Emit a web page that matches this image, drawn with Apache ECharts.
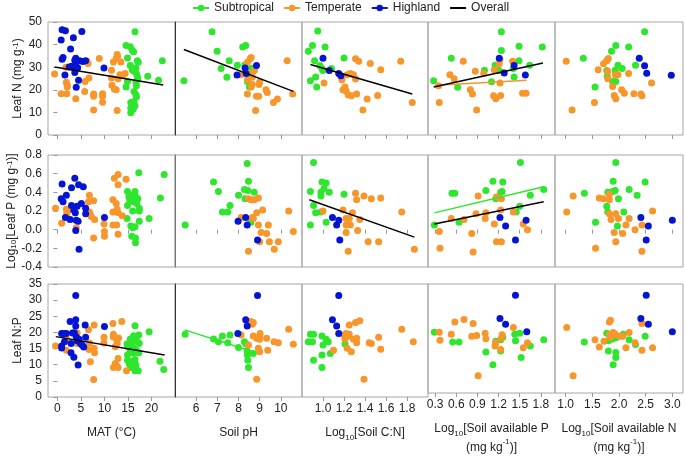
<!DOCTYPE html>
<html>
<head>
<meta charset="utf-8">
<script src="https://cdn.jsdelivr.net/npm/echarts@6/dist/echarts.min.js"></script>
<style>
html, body { margin: 0; padding: 0; background: #fff; }
#main { width: 685px; height: 458px; }
</style>
</head>
<body>
<div id="main"></div>
<script>
// tick labels of the x axes
var matTicks = [0, 5, 10, 15, 20];
var phTicks = [6, 7, 8, 9, 10];
var cnTicks = [1.0, 1.2, 1.4, 1.6, 1.8];
var pTicks = [0.3, 0.6, 0.9, 1.2, 1.5, 1.8];
var nTicks = [1.0, 1.5, 2.0, 2.5, 3.0];

// ---- row 1 : leaf N ----
var nMatSub = [[16.5,45.7],[14.6,39.6],[15.5,39.0],[15.9,37.5],[16.2,36.8],[14.9,34.1],[17.0,32.9],[17.2,32.2],[22.3,32.9],[15.5,30.7],[15.9,28.9],[16.2,28.2],[16.7,29.7],[16.8,27.2],[17.0,25.7],[17.1,24.8],[19.2,26.0],[21.5,24.2],[14.6,21.2],[14.9,23.7],[16.7,23.3],[16.8,21.8],[16.3,19.3],[16.7,17.8],[16.8,16.8],[15.6,14.4],[16.3,14.8],[15.6,11.9],[16.1,11.4],[16.5,12.9],[15.6,9.9]];
var nMatTem = [[-0.6,27.0],[0.8,18.2],[1.8,30.0],[1.9,23.3],[2.1,22.0],[2.1,21.2],[2.0,18.2],[3.9,16.0],[5.9,23.7],[6.3,32.6],[6.5,31.6],[6.7,25.2],[5.8,19.3],[7.7,18.1],[7.7,17.1],[7.7,11.1],[8.9,33.8],[9.6,18.2],[9.6,17.1],[9.6,14.5],[11.5,25.2],[11.5,28.6],[11.9,32.3],[12.5,33.8],[12.7,35.6],[12.8,34.6],[13.5,32.3],[11.6,22.0],[12.1,20.3],[12.5,20.0],[12.7,10.8],[12.9,24.9],[13.3,26.7],[13.9,26.4],[14.4,27.2]];
var nMatHig = [[1.0,46.6],[1.7,46.1],[5.2,45.8],[3.4,43.0],[0.8,42.0],[2.8,38.1],[1.2,34.3],[1.0,33.5],[3.9,34.0],[3.7,33.1],[4.7,32.8],[5.4,32.5],[6.0,32.8],[2.5,30.1],[3.0,30.4],[3.5,30.1],[3.9,30.4],[4.3,29.8],[1.6,26.6],[3.7,27.6],[4.5,24.2],[4.0,21.1],[9.9,29.7]];
var nMatAll = [[-0.6,30.1],[22.5,22.1]];

var nPhSub = [[5.42,24.0],[6.75,45.7],[6.99,37.1],[7.18,29.4],[7.45,25.5],[7.56,32.9],[7.95,30.9],[8.2,38.9],[8.34,39.6],[8.3,31.0],[8.42,23.7],[8.52,21.2],[8.7,28.2],[8.6,29.5]];
var nPhTem = [[8.1,26.7],[8.42,32.2],[8.55,33.7],[8.6,34.3],[8.42,24.5],[8.5,26.0],[8.6,27.0],[8.65,25.5],[8.75,28.6],[8.42,18.1],[8.6,21.2],[8.65,22.3],[8.97,22.3],[9.0,23.5],[8.85,17.1],[8.95,17.2],[8.81,10.8],[9.3,20.0],[9.36,18.8],[9.65,14.4],[9.84,15.9],[10.3,32.8],[10.56,18.1]];
var nPhHig = [[7.93,26.6],[8.31,29.7],[8.36,27.2],[8.85,30.7]];
var nPhAll = [[5.42,37.8],[10.59,19.3]];

var nCnSub = [[0.86,37.1],[0.90,39.6],[0.92,32.9],[0.95,46.0],[0.88,24.0],[0.93,25.7],[0.97,30.7],[0.99,29.4],[1.0,28.5],[1.02,38.9],[1.08,29.4],[1.2,34.1],[0.94,21.2]];
var nCnTem = [[1.01,23.0],[1.31,33.7],[1.34,32.6],[1.45,31.6],[1.55,28.9],[1.74,32.6],[1.85,14.4],[1.23,26.7],[1.26,27.2],[1.29,26.7],[1.31,24.8],[1.21,21.2],[1.22,19.5],[1.24,17.8],[1.27,17.4],[1.32,18.1],[1.42,15.9],[1.52,17.5],[1.38,11.1],[1.19,20.0],[1.18,24.5]];
var nCnHig = [[1.0,34.0],[1.06,28.5],[1.15,27.2],[1.17,26.2]];
var nCnAll = [[0.88,31.2],[1.85,18.1]];

var nPSub = [[0.28,24.0],[0.53,34.0],[0.62,21.1],[1.0,28.6],[1.1,23.6],[1.15,30.9],[1.21,28.5],[1.24,45.7],[1.24,37.4],[1.41,29.4],[1.42,25.7],[1.49,39.3],[1.49,32.9],[1.64,30.9],[1.82,38.9]];
var nPTem = [[0.35,21.8],[0.36,14.4],[0.51,26.7],[0.57,24.9],[0.70,32.6],[0.80,20.0],[0.83,18.1],[0.87,28.2],[0.89,11.1],[0.99,27.2],[1.13,17.4],[1.16,16.0],[1.14,28.9],[1.21,31.5],[1.22,33.4],[1.22,23.0],[1.23,17.5],[1.40,32.6],[1.54,18.5],[1.59,18.5]];
var nPHig = [[1.21,34.0],[1.28,27.4],[1.42,30.7],[1.58,26.6]];
var nPAll = [[0.28,21.2],[1.83,31.9]];
var nPTemFit = [[0.32,22.0],[1.6,24.2]];

var nNSub = [[1.33,34.0],[1.55,21.2],[1.77,28.5],[1.78,26.0],[1.86,37.1],[1.94,39.6],[1.88,23.7],[1.94,23.7],[1.93,28.6],[1.98,30.9],[2.06,29.4],[2.18,38.9],[2.31,30.9],[2.48,45.7]];
var nNTem = [[1.01,32.6],[1.12,11.1],[1.54,14.4],[1.61,28.9],[1.71,31.5],[1.77,32.9],[1.80,33.8],[1.79,28.2],[1.79,24.9],[1.88,21.5],[1.91,17.5],[1.94,16.0],[1.93,26.7],[1.98,26.7],[2.05,20.0],[2.1,18.5],[2.18,27.2],[2.28,18.2],[2.41,18.1],[2.43,17.4],[2.61,23.0]];
var nNHig = [[2.38,34.0],[2.48,30.6],[2.52,27.3],[2.98,26.4]];

// ---- row 2 : log10 leaf P ----
var pMatSub = [[17.3,0.61],[22.7,0.59],[21.9,0.34],[14.9,0.41],[16.5,0.41],[15.2,0.35],[15.6,0.34],[16.0,0.33],[16.4,0.32],[16.8,0.30],[15.4,0.31],[16.2,0.30],[16.9,0.28],[17.1,0.33],[16.6,0.36],[15.8,0.37],[14.9,0.26],[16.0,0.20],[17.4,0.23],[17.4,0.20],[14.8,0.12],[17.4,0.09],[19.5,0.12],[15.6,0.04],[16.0,0.02],[16.5,0.03],[15.8,-0.07],[16.6,-0.09],[16.6,-0.14]];
var pMatTem = [[-0.4,0.23],[0.9,0.07],[1.9,0.22],[2.2,0.20],[2.0,0.17],[4.0,0.02],[6.8,0.37],[6.6,0.30],[7.7,0.31],[6.8,0.19],[7.0,0.16],[7.2,0.14],[7.9,0.11],[7.7,-0.09],[9.9,0.06],[10.0,-0.02],[10.0,-0.07],[11.8,0.32],[12.5,0.28],[12.1,0.55],[12.9,0.59],[12.9,0.48],[14.6,0.54],[11.8,0.19],[12.7,0.22],[12.9,0.18],[13.8,0.15],[11.8,0.05],[12.6,0.05],[12.9,-0.05]];
var pMatHig = [[1.0,0.49],[0.8,0.33],[1.2,0.30],[1.9,0.37],[3.0,0.45],[3.7,0.55],[4.5,0.48],[5.5,0.46],[3.0,0.26],[3.5,0.21],[3.8,0.18],[5.1,0.28],[6.0,0.23],[6.0,0.17],[1.7,0.13],[2.7,0.11],[4.0,0.10],[4.4,0.09],[3.9,-0.01],[4.6,-0.21],[10.0,0.13],[4.2,0.25]];

var pPhSub = [[5.48,0.05],[6.82,0.51],[7.05,0.41],[7.24,0.19],[7.49,0.19],[7.6,0.26],[8.0,0.37],[8.28,0.43],[8.41,0.71],[8.47,0.52],[8.44,0.42],[8.31,0.33],[8.59,0.08],[8.74,0.40]];
var pPhTem = [[8.12,0.13],[8.47,0.33],[8.6,0.32],[8.94,0.34],[9.14,0.21],[8.86,0.18],[8.7,0.12],[8.65,0.13],[8.47,-0.23],[8.94,0.05],[9.07,-0.03],[9.0,-0.13],[9.33,-0.04],[9.41,0.05],[9.46,-0.13],[9.69,-0.21],[9.88,-0.13],[10.37,0.20],[10.59,-0.02],[8.75,0.32]];
var pPhHig = [[7.98,0.09],[8.34,0.13],[8.41,0.05],[8.9,-0.11]];

var pCnSub = [[0.91,0.72],[0.88,0.41],[0.91,0.26],[0.93,0.18],[0.88,0.05],[0.99,0.51],[1.03,0.50],[0.98,0.36],[1.01,0.44],[0.98,0.40],[1.06,0.40],[0.98,0.19],[1.03,0.08],[1.2,0.38]];
var pCnTem = [[1.31,0.39],[1.32,0.32],[1.39,0.36],[1.46,0.33],[1.55,0.34],[1.22,0.12],[1.25,0.12],[1.28,0.18],[1.35,0.11],[1.22,0.05],[1.26,0.05],[1.22,-0.03],[1.33,-0.01],[1.24,-0.23],[1.43,-0.13],[1.53,-0.13],[1.75,0.19],[1.87,-0.21],[1.19,0.21],[1.0,0.20]];
var pCnHig = [[1.09,0.13],[1.13,0.05],[1.15,0.10],[1.16,-0.11]];
var pCnAll = [[0.87,0.32],[1.87,-0.08]];

var pPSub = [[0.29,0.05],[0.54,0.39],[0.58,0.39],[0.64,0.08],[1.02,0.42],[1.12,0.52],[1.26,0.51],[1.23,0.40],[1.25,0.41],[1.16,0.33],[1.45,0.19],[1.50,0.25],[1.51,0.72],[1.65,0.37],[1.84,0.43]];
var pPTem = [[0.36,-0.02],[0.37,-0.20],[0.53,0.12],[0.71,0.11],[0.82,-0.04],[0.84,-0.24],[0.88,0.17],[0.91,0.36],[1.01,0.12],[1.02,0.18],[1.14,0.06],[1.17,0.35],[1.24,0.33],[1.23,0.21],[1.17,-0.13],[1.24,-0.13],[1.41,0.19],[1.55,0.06],[1.61,0.0]];
var pPHig = [[1.22,0.13],[1.30,0.04],[1.44,-0.11],[1.59,0.10]];
var pPAll = [[0.29,0.06],[1.84,0.30]];
var pPSubFit = [[0.29,0.18],[1.84,0.46]];

var pNSub = [[1.35,0.39],[1.56,0.08],[1.79,0.40],[1.88,0.41],[1.94,0.72],[1.89,0.52],[1.93,0.42],[1.99,0.33],[1.77,0.25],[1.79,0.19],[2.09,0.19],[1.97,0.04],[2.19,0.43],[2.34,0.37],[2.49,0.51]];
var pNTem = [[1.02,0.19],[1.14,0.36],[1.56,-0.20],[1.63,0.34],[1.71,0.33],[1.82,0.32],[1.82,0.38],[1.82,0.17],[1.94,0.17],[1.85,0.11],[1.99,0.12],[1.91,-0.03],[2.07,-0.04],[2.13,0.05],[2.19,0.12],[1.94,-0.13],[2.30,0.00],[2.43,0.05],[2.43,-0.23],[2.63,0.20]];
var pNHig = [[2.41,0.13],[2.55,0.04],[2.51,-0.11],[3.0,0.10]];

// ---- row 3 : leaf N:P ----
var npMatSub = [[16.5,22.1],[19.5,20.2],[16.2,19.0],[16.7,18.6],[17.3,19.2],[15.5,18.0],[16.0,17.6],[16.5,17.9],[17.0,17.2],[17.4,16.6],[14.8,16.4],[15.3,16.6],[15.6,16.0],[16.0,15.5],[16.3,15.0],[15.0,15.6],[16.8,14.5],[15.5,14.1],[14.9,13.0],[16.1,13.6],[16.8,13.9],[17.3,13.7],[14.9,11.4],[15.8,11.1],[16.5,11.6],[15.3,10.2],[16.7,9.9],[15.6,9.1],[16.5,8.1],[17.2,8.1],[21.8,11.1],[22.6,8.5]];
var npMatTem = [[-0.4,15.8],[1.9,18.1],[1.9,14.5],[4.2,19.8],[4.2,16.6],[6.6,20.8],[7.8,22.3],[6.8,16.7],[6.7,14.7],[7.8,15.1],[7.9,13.7],[7.0,10.9],[7.7,5.4],[9.9,18.5],[9.9,16.7],[11.8,22.8],[13.7,23.4],[11.9,19.4],[11.9,18.6],[12.6,17.9],[13.0,18.3],[12.7,16.6],[12.3,15.6],[12.9,11.9],[12.3,10.4],[12.6,9.6],[12.9,9.1],[11.9,9.1],[14.7,8.1]];
var npMatHig = [[3.9,31.4],[3.9,23.9],[3.9,22.0],[2.7,23.4],[3.6,19.9],[4.0,18.7],[4.2,17.4],[4.6,17.9],[5.9,22.3],[10.0,21.8],[0.9,19.7],[1.4,19.7],[1.9,19.7],[1.5,17.1],[0.9,15.8],[0.9,15.2],[2.9,16.6],[2.9,13.7],[3.5,12.3],[4.4,9.9],[4.9,16.6],[5.3,16.0],[5.6,15.5],[6.0,18.5],[3.2,19.8]];
var npMatAll = [[-0.35,18.7],[22.8,13.0]];

var npPhSub = [[5.48,19.4],[6.82,18.0],[7.05,17.1],[7.24,18.9],[7.49,16.8],[7.6,19.2],[8.0,15.3],[8.28,17.1],[8.36,16.4],[8.41,14.3],[8.42,13.0],[8.44,11.4],[8.47,9.1],[8.7,13.5]];
var npPhTem = [[8.12,19.2],[8.47,16.1],[8.58,23.4],[8.7,23.1],[8.7,18.9],[8.86,18.2],[8.99,18.7],[9.02,19.7],[9.0,17.9],[8.94,15.1],[9.0,14.0],[9.38,14.5],[9.33,18.2],[8.86,5.5],[9.68,17.1],[9.88,16.8],[10.37,21.0],[10.59,16.3],[8.65,22.5]];
var npPhHig = [[7.97,19.7],[8.34,23.9],[8.41,22.0],[8.9,31.4]];
var npPhSubFit = [[5.45,20.8],[8.7,14.0]];

var npCnSub = [[0.88,19.4],[0.91,19.4],[0.90,17.1],[0.99,18.9],[1.0,16.1],[0.99,13.0],[1.03,17.9],[1.05,17.1],[1.07,13.5],[0.91,11.4],[0.99,9.1],[1.21,16.4],[0.86,17.1]];
var npCnTem = [[1.2,19.2],[1.1,14.5],[1.22,19.7],[1.24,18.9],[1.25,19.4],[1.21,17.9],[1.25,22.3],[1.31,23.1],[1.35,23.6],[1.29,17.9],[1.32,18.2],[1.23,15.1],[1.27,14.0],[1.32,16.8],[1.44,16.8],[1.46,16.6],[1.53,18.5],[1.55,14.8],[1.75,21.0],[1.86,17.1],[1.39,5.5]];
var npCnHig = [[1.15,31.4],[1.09,23.9],[1.13,22.0],[1.15,19.7]];

var npPSub = [[0.29,19.5],[0.55,16.4],[0.64,16.4],[1.02,13.2],[1.12,9.1],[1.16,16.6],[1.23,17.1],[1.26,17.9],[1.23,13.5],[1.43,18.9],[1.44,16.8],[1.50,19.2],[1.52,11.4],[1.65,15.1],[1.84,17.1]];
var npPTem = [[0.36,19.5],[0.37,16.9],[0.53,18.9],[0.58,22.8],[0.71,23.6],[0.84,22.3],[0.82,18.2],[0.89,18.5],[0.91,5.5],[1.01,19.2],[1.02,17.4],[1.15,15.1],[1.16,16.1],[1.23,14.0],[1.25,18.7],[1.24,17.7],[1.41,21.0],[1.55,14.5],[1.61,16.1]];
var npPHig = [[1.22,23.9],[1.30,22.1],[1.44,31.4],[1.60,19.7]];

var npNSub = [[1.35,16.4],[1.77,19.2],[1.80,16.8],[1.88,17.3],[1.80,13.5],[1.94,13.0],[1.94,11.4],[1.89,9.1],[2.08,18.9],[2.19,17.1],[2.31,15.6],[2.49,18.2],[1.95,17.8]];
var npNTem = [[1.02,21.0],[1.14,5.5],[1.55,17.1],[1.63,14.8],[1.72,16.6],[1.82,22.8],[1.84,23.4],[1.82,18.7],[1.84,17.9],[1.89,19.4],[1.93,18.9],[2.01,18.2],[2.07,18.2],[2.13,14.5],[2.19,19.4],[2.3,16.1],[2.43,22.3],[2.43,13.7],[2.63,14.5]];
var npNHig = [[2.41,23.9],[2.51,31.4],[2.55,22.1],[3.0,19.7]];

var GREEN = '#2ee62e', ORANGE = '#f7962a', BLUE = '#0514d2', BLACK = '#000';
var FONT = 'Liberation Sans, Arial, sans-serif';

// layout of the 3 x 5 panel grid
var colLeft = [48, 175, 302, 428, 555];
var colWidth = [127, 127, 126, 127, 128];
var rowTop = [22, 155, 284];
var rowHeight = [113, 112, 113];

var rich = {
	sup : { fontSize : 8, verticalAlign : 'top', fontFamily : FONT, color : '#222' },
	sub : { fontSize : 8, verticalAlign : 'bottom', fontFamily : FONT, color : '#222' }
};

var rowsCfg = [
	{ min : 0, max : 50, interval : 10, dec : 0, name : 'Leaf N (mg g{sup|-1})' },
	{ min : -0.4, max : 0.8, interval : 0.2, dec : 1, name : 'Log{sub|10}[Leaf P (mg g{sup|-1})]' },
	{ min : 0, max : 35, interval : 5, dec : 0, name : 'Leaf N:P' }
];
var colsCfg = [
	{ min : -2, max : 25, ticks : matTicks, dec : 0, name : 'MAT (°C)' },
	{ min : 5, max : 11, ticks : phTicks, dec : 0, name : 'Soil pH' },
	{ min : 0.8, max : 2.0, ticks : cnTicks, dec : 1, name : 'Log{sub|10}[Soil C:N]' },
	{ min : 0.2, max : 2.0, ticks : pTicks, dec : 1, name : 'Log{sub|10}[Soil available P\n(mg kg{sup|-1})]' },
	{ min : 0.8, max : 3.2, ticks : nTicks, dec : 1, name : 'Log{sub|10}[Soil available N\n(mg kg{sup|-1})]' }
];

// [subtropical, temperate, highland, fitted lines]
var panels = [
	[
		[nMatSub, nMatTem, nMatHig, [[nMatAll, BLACK]]],
		[nPhSub, nPhTem, nPhHig, [[nPhAll, BLACK]]],
		[nCnSub, nCnTem, nCnHig, [[nCnAll, BLACK]]],
		[nPSub, nPTem, nPHig, [[nPTemFit, ORANGE], [nPAll, BLACK]]],
		[nNSub, nNTem, nNHig, []]
	],
	[
		[pMatSub, pMatTem, pMatHig, []],
		[pPhSub, pPhTem, pPhHig, []],
		[pCnSub, pCnTem, pCnHig, [[pCnAll, BLACK]]],
		[pPSub, pPTem, pPHig, [[pPSubFit, GREEN], [pPAll, BLACK]]],
		[pNSub, pNTem, pNHig, []]
	],
	[
		[npMatSub, npMatTem, npMatHig, [[npMatAll, BLACK]]],
		[npPhSub, npPhTem, npPhHig, [[npPhSubFit, GREEN]]],
		[npCnSub, npCnTem, npCnHig, []],
		[npPSub, npPTem, npPHig, []],
		[npNSub, npNTem, npNHig, []]
	]
];

function fmt(v, dec) {
	if (Math.abs(v) < 1e-9) v = 0;
	return v.toFixed(dec);
}

var grids = [], xAxes = [], yAxes = [];
// dummy series first so that the legend takes its icons from them
var series = [
	{ name : 'Subtropical', type : 'line', data : [], symbol : 'circle', symbolSize : 6, itemStyle : { color : GREEN }, lineStyle : { color : GREEN, width : 1.5 } },
	{ name : 'Temperate', type : 'line', data : [], symbol : 'circle', symbolSize : 6, itemStyle : { color : ORANGE }, lineStyle : { color : ORANGE, width : 1.5 } },
	{ name : 'Highland', type : 'line', data : [], symbol : 'circle', symbolSize : 6, itemStyle : { color : BLUE }, lineStyle : { color : BLUE, width : 1.5 } },
	{ name : 'Overall', type : 'line', data : [], symbol : 'none', itemStyle : { color : BLACK }, lineStyle : { color : BLACK, width : 1.5 } }
];

for (var r = 0; r < 3; r++) {
	for (var c = 0; c < 5; c++) {
		var idx = r * 5 + c;
		var rc = rowsCfg[r], cc = colsCfg[c];
		grids.push({
			left : colLeft[c], top : rowTop[r], width : colWidth[c], height : rowHeight[r],
			show : true, borderColor : '#a6a6a6', borderWidth : 1, backgroundColor : 'transparent'
		});
		(function(cc, r) {
			xAxes.push({
				gridIndex : idx, type : 'value', min : cc.min, max : cc.max,
				splitLine : { show : false },
				axisLine : { show : false },
				axisTick : { show : true, inside : false, length : 4, customValues : cc.ticks, lineStyle : { color : '#999' } },
				axisLabel : {
					show : r === 2, customValues : cc.ticks, margin : 6,
					fontSize : 12, fontFamily : FONT, color : '#222',
					formatter : function(v) { return fmt(v, cc.dec); }
				},
				name : r === 2 ? cc.name : '',
				nameLocation : 'middle', nameGap : 26,
				nameTextStyle : { fontSize : 12, fontFamily : FONT, color : '#222', lineHeight : 19, rich : rich }
			});
		})(cc, r);
		(function(rc, c, r) {
			yAxes.push({
				gridIndex : idx, type : 'value', min : rc.min, max : rc.max, interval : rc.interval,
				splitLine : { show : false },
				axisLine : { show : c === 1, lineStyle : { color : r === 1 ? '#777' : '#333' } },
				axisTick : { show : c === 0, length : 4, lineStyle : { color : '#999' } },
				axisLabel : {
					show : c === 0, margin : 6, fontSize : 12, fontFamily : FONT, color : '#222',
					formatter : function(v) { return fmt(v, rc.dec); }
				},
				name : c === 0 ? rc.name : '',
				nameLocation : 'middle', nameGap : 24, nameRotate : 90,
				nameTextStyle : { fontSize : 12, fontFamily : FONT, color : '#222', rich : rich }
			});
		})(rc, c, r);

		var p = panels[r][c];
		var groups = [['Subtropical', GREEN, p[0]], ['Temperate', ORANGE, p[1]], ['Highland', BLUE, p[2]]];
		for (var g = 0; g < groups.length; g++) {
			series.push({
				name : groups[g][0], type : 'scatter', xAxisIndex : idx, yAxisIndex : idx,
				data : groups[g][2], symbol : 'circle', symbolSize : 7,
				itemStyle : { color : groups[g][1], opacity : 1 }
			});
		}
		for (var k = 0; k < p[3].length; k++) {
			series.push({
				name : p[3][k][1] === BLACK ? 'Overall' : '', type : 'line',
				xAxisIndex : idx, yAxisIndex : idx, data : p[3][k][0],
				symbol : 'none', silent : true,
				lineStyle : { color : p[3][k][1], width : 1.5 }, z : 5
			});
		}
	}
}

var chart = echarts.init(document.getElementById('main'), null, { renderer : 'canvas' });
var option = {
	animation : false,
	backgroundColor : '#fff',
	legend : {
		data : ['Subtropical', 'Temperate', 'Highland', { name : 'Overall', itemStyle : { opacity : 0 } }],
		top : -3, left : 187, itemWidth : 16, itemHeight : 8, itemGap : 9,
		textStyle : { fontSize : 12, fontFamily : FONT, color : '#222' }
	},
	grid : grids,
	xAxis : xAxes,
	yAxis : yAxes,
	series : series
};
chart.setOption(option);
</script>
</body>
</html>
